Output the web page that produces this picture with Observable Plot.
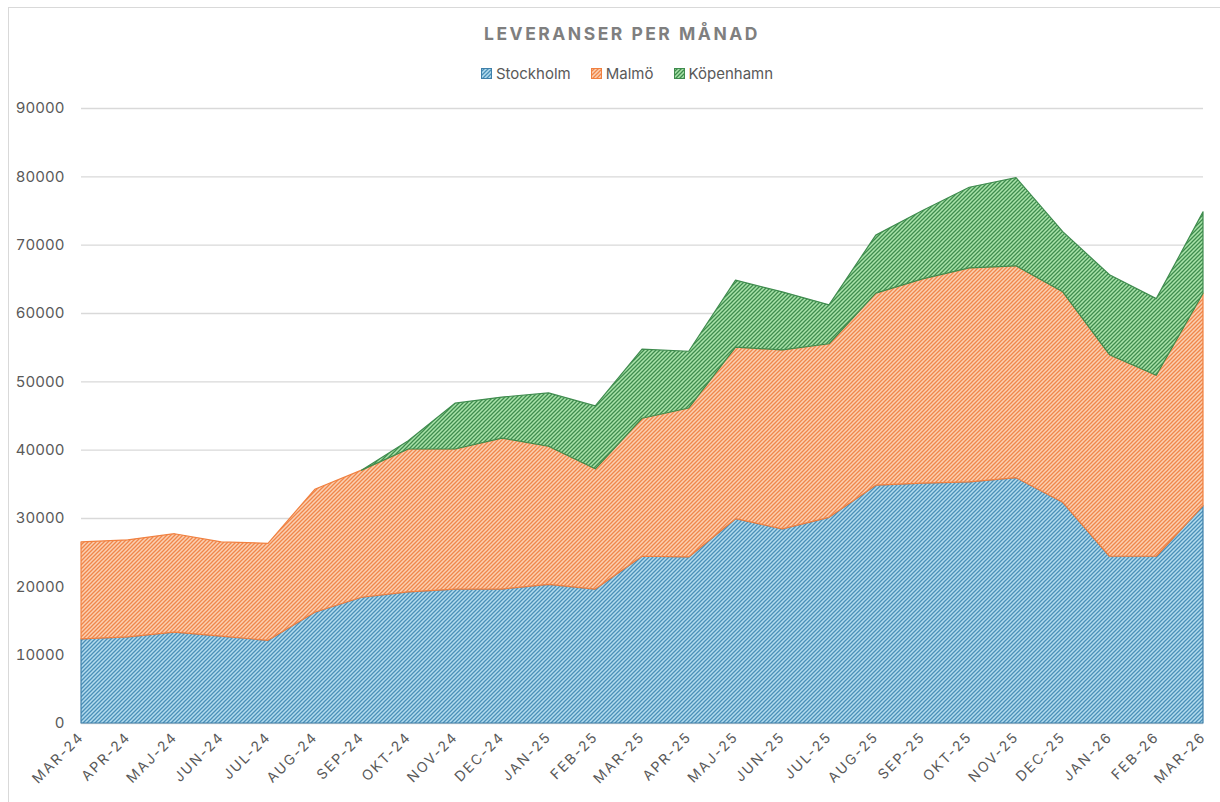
<!DOCTYPE html>
<html>
<head>
<meta charset="utf-8">
<script src="https://cdn.jsdelivr.net/npm/d3@7"></script>
<script src="https://cdn.jsdelivr.net/npm/@observablehq/plot@0.6"></script>
<style>
  html, body { margin: 0; padding: 0; background: #fff; }
  body { width: 1220px; height: 802px; overflow: hidden; position: relative; font-family: Inter, "Noto Sans", sans-serif; }
  #frame { position: absolute; left: 8px; top: 7px; width: 1230px; height: 820px; border: 1.5px solid #d9d9d9; box-sizing: border-box; }
  #title { position: absolute; left: 12px; top: 23px; width: 1220px; text-align: center; font-size: 17.5px; font-weight: 700; color: #7f7f7f; letter-spacing: 2.5px; }
  #legend { position: absolute; left: 17px; top: 64px; width: 1220px; display: flex; justify-content: center; gap: 20px; font-size: 15px; color: #595959; }
  #legend .item { display: flex; align-items: center; gap: 4px; }
  #chart { position: absolute; left: 0; top: 90px; }
  #chart text { font-family: Inter, "Noto Sans", sans-serif; }
  .xlab text { letter-spacing: 1.9px; }
</style>
</head>
<body>
<svg width="0" height="0" style="position:absolute">
  <defs>
    <pattern id="pat-0" width="4" height="4" patternUnits="userSpaceOnUse">
      <rect width="4" height="4" fill="#b3dcee"/>
      <path d="M-1,1 l2,-2 M0,4 l4,-4 M3,5 l2,-2" stroke="#4a8fb8" stroke-width="1.3"/>
    </pattern>
    <pattern id="pat-1" width="4" height="4" patternUnits="userSpaceOnUse">
      <rect width="4" height="4" fill="#fbd0b2"/>
      <path d="M-1,1 l2,-2 M0,4 l4,-4 M3,5 l2,-2" stroke="#f0864a" stroke-width="1.3"/>
    </pattern>
    <pattern id="pat-2" width="4" height="4" patternUnits="userSpaceOnUse">
      <rect width="4" height="4" fill="#a9e3a9"/>
      <path d="M-1,1 l2,-2 M0,4 l4,-4 M3,5 l2,-2" stroke="#3f8c4e" stroke-width="1.3"/>
    </pattern>
  </defs>
</svg>
<div id="frame"></div>
<div id="title">LEVERANSER PER MÅNAD</div>
<div id="legend"></div>
<div id="chart"></div>
<script>
const months = ["MAR-24","APR-24","MAJ-24","JUN-24","JUL-24","AUG-24","SEP-24","OKT-24","NOV-24","DEC-24","JAN-25","FEB-25","MAR-25","APR-25","MAJ-25","JUN-25","JUL-25","AUG-25","SEP-25","OKT-25","NOV-25","DEC-25","JAN-26","FEB-26","MAR-26"];
const cities = ["Stockholm", "Malmö", "Köpenhamn"];
const stockholm = [12300,12600,13300,12700,12100,16200,18400,19200,19600,19600,20300,19600,24400,24300,29900,28400,30100,34800,35100,35300,35900,32300,24400,24400,31800];
const malmo = [14200,14200,14400,13800,14200,18000,18600,20900,20500,22100,20200,17600,20200,21800,25100,26200,25400,28100,29900,31300,31000,30800,29500,26500,31100];
const kopenhamn = [null,null,null,null,null,null,0,1200,6700,6000,7800,9200,10100,8300,9800,8500,5700,8500,10000,11800,12900,8800,11700,11200,11900];
const yTicks = [0,10000,20000,30000,40000,50000,60000,70000,80000,90000];

const fills = ["url(#pat-0)", "url(#pat-1)", "url(#pat-2)"];
const strokes = ["#3f80aa", "#f08040", "#3f8c4e"];
const series = [stockholm, malmo, kopenhamn];

const data = [];
series.forEach((vals, s) => vals.forEach((v, i) => {
  if (v != null) data.push({month: months[i], value: v, city: cities[s], fill: fills[s], stroke: strokes[s]});
}));

// legend
const legend = document.getElementById("legend");
cities.forEach((c, s) => {
  const it = document.createElement("div");
  it.className = "item";
  it.innerHTML = `<svg width="11" height="11"><rect x="0.5" y="0.5" width="10" height="10" fill="${fills[s]}" stroke="${strokes[s]}" stroke-width="1"/></svg><span>${c}</span>`;
  legend.appendChild(it);
});

const chart = Plot.plot({
  width: 1220,
  height: 712,
  marginTop: 18,
  marginBottom: 79,
  marginLeft: 81,
  marginRight: 17,
  style: {fontSize: "15px", color: "#595959", background: "transparent"},
  x: {type: "point", domain: months, padding: 0, round: false, label: null},
  y: {domain: [0, 90000], label: null},
  color: {type: "identity"},
  marks: [
    Plot.gridY(yTicks, {stroke: "#d9d9d9", strokeOpacity: 1, strokeWidth: 1.3}),
    Plot.areaY(data, Plot.stackY({x: "month", y: "value", z: "city", fill: "fill", stroke: "stroke", strokeWidth: 1.2, strokeLinejoin: "round"})),
    Plot.axisY(yTicks, {tickSize: 0, tickPadding: 17, tickFormat: d => String(d), fontSize: 15, fill: "#595959"}),
    Plot.axisX(months, {tickSize: 0, tickPadding: 11, tickRotate: -45, fontSize: 14, fill: "#595959", className: "xlab"})
  ]
});
document.getElementById("chart").appendChild(chart);
</script>
</body>
</html>
